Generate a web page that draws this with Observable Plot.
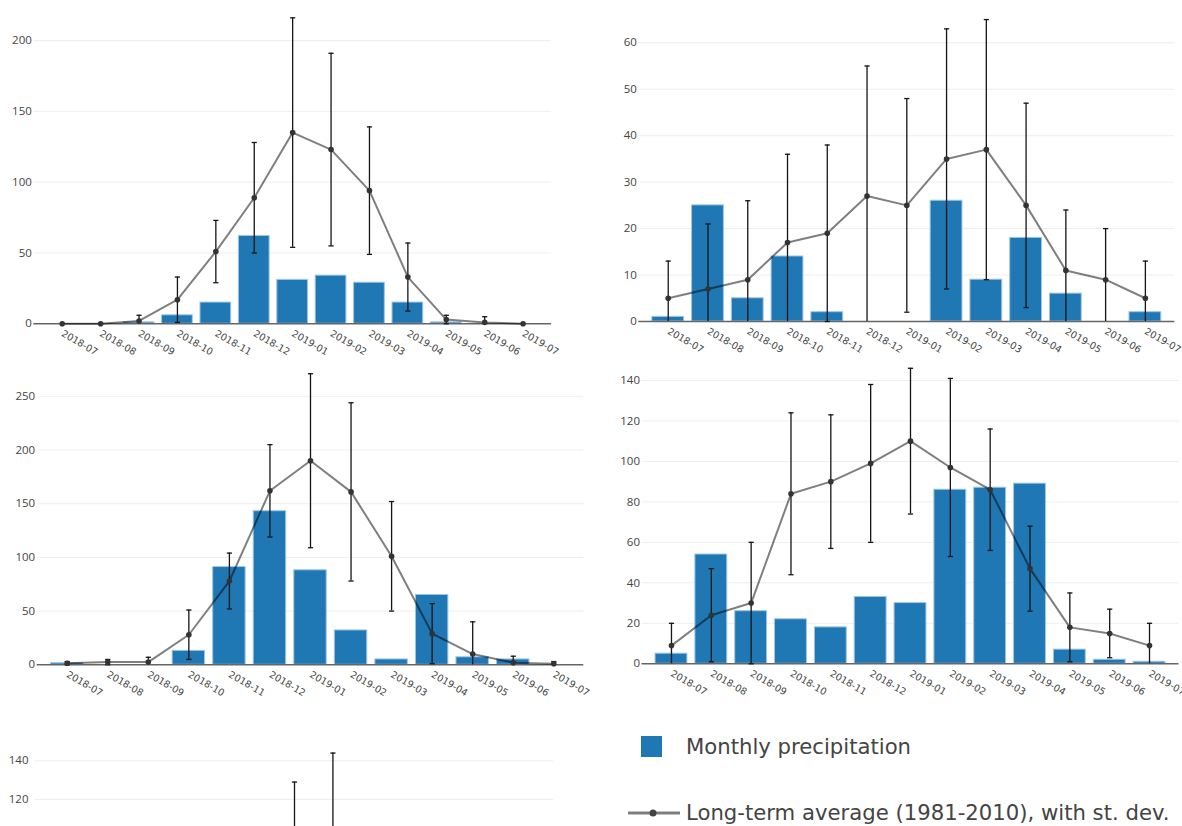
<!DOCTYPE html>
<html>
<head>
<meta charset="utf-8">
<script src="https://cdn.jsdelivr.net/npm/d3@7"></script>
<script src="https://cdn.jsdelivr.net/npm/@observablehq/plot@0.6"></script>
<style>
  html, body { margin: 0; padding: 0; background: #fff; overflow: hidden; width: 1182px; height: 826px; }
  #root { position: relative; width: 1182px; height: 826px; font-family: "Open Sans", sans-serif; }
  .panel { position: absolute; }
  .legend-item { position: absolute; color: #444; font-family: "DejaVu Sans", sans-serif; font-size: 21.2px; white-space: nowrap; line-height: 1; }
</style>
</head>
<body>
<div id="root"></div>
<script>
// ---------- data ----------
const months = ["2018-07","2018-08","2018-09","2018-10","2018-11","2018-12","2019-01","2019-02","2019-03","2019-04","2019-05","2019-06","2019-07"];

// Panel A (top left)
const aPrecip = [0, 0, 1, 6, 15, 62, 31, 34, 29, 15, 1, 0, 0];
const aMean   = [0, 0, 2, 17, 51, 89, 135, 123, 94, 33, 3, 1, 0];
const aSd     = [0, 0, 4, 16, 22, 39, 81, 68, 45, 24, 3, 4, 0];

// Panel B (top right)
const bPrecip = [1, 25, 5, 14, 2, 0, 0, 26, 9, 18, 6, 0, 2];
const bMean   = [5, 7, 9, 17, 19, 27, 25, 35, 37, 25, 11, 9, 5];
const bSd     = [8, 14, 17, 19, 19, 28, 23, 28, 28, 22, 13, 11, 8];

// Panel C (middle left)
const cPrecip = [1.5, 0, 0, 13, 91, 143, 88, 32, 5, 65, 7, 5, 0];
const cMean   = [1.5, 2.5, 2.5, 28, 78, 162, 190, 161, 101, 29, 10, 2, 1];
const cSd     = [1.5, 2.5, 4.5, 23, 26, 43, 81, 83, 51, 28, 30, 6, 2];

// Panel D (middle right)
const dPrecip = [5, 54, 26, 22, 18, 33, 30, 86, 87, 89, 7, 2, 1];
const dMean   = [9, 24, 30, 84, 90, 99, 110, 97, 86, 47, 18, 15, 9];
const dSd     = [11, 23, 30, 40, 33, 39, 36, 44, 30, 21, 17, 12, 11];

// Panel E (bottom left, only its top is visible): upper ends of the st. dev. bars
const eMonths = ["2019-01", "2019-02"];
const eUpper  = [129, 144];

// legend labels
const legendBar  = "Monthly precipitation";
const legendLine = "Long-term average (1981-2010), with st. dev.";

// ---------- style ----------
const BAR_FILL = "#1f77b4";
const BAR_STROKE = "#9fc5e6";
const GRID = "#eeeeee";
const TEXT = "#444";
const ERR = "#151515";
const capSymbol = { draw(ctx, size) { const r = Math.sqrt(size / Math.PI); ctx.moveTo(-r, 0); ctx.lineTo(r, 0); } };
const XPAD = 0.74;

const root = document.getElementById("root");

function panel(cfg) {
  const { left, top, width, height, plotLeft, plotRight, zeroY, pxPerUnit, marginTop, step, precip, mean, sd } = cfg;
  const marginBottom = height - zeroY;
  const yMax = (zeroY - marginTop) / pxPerUnit;
  const data = months.map((m, i) => ({ i, m, p: precip[i], mu: mean[i], sd: sd[i] }));
  const chart = Plot.plot({
    width, height,
    marginLeft: plotLeft, marginRight: width - plotRight, marginTop, marginBottom,
    x: { type: "linear", domain: [-XPAD, months.length - 1 + XPAD] },
    y: { domain: [0, yMax] },
    style: { fontFamily: "Open Sans, sans-serif", background: "transparent", overflow: "visible" },
    marks: [
      Plot.gridY({ ticks: d3.range(step, yMax, step), stroke: GRID, strokeOpacity: 1, strokeWidth: 1 }),
      Plot.axisY({ ticks: d3.range(0, yMax, step), tickSize: 0, tickPadding: 2, fontSize: 11.5, fill: TEXT, label: null }),
      Plot.rect(data, { x1: d => d.i - 0.4, x2: d => d.i + 0.4, y1: d => 0, y2: "p", fill: BAR_FILL, stroke: BAR_STROKE, strokeWidth: 1 }),
      Plot.ruleY([0], { stroke: "#666", strokeWidth: 1.5 }),
      Plot.line(data, { x: "i", y: "mu", stroke: "#000", strokeOpacity: 0.5, strokeWidth: 2 }),
      Plot.ruleX(data, { x: "i", y1: d => d.mu - d.sd, y2: d => d.mu + d.sd, stroke: ERR, strokeWidth: 1.3, clip: true }),
      Plot.dot(data.filter(d => d.sd > 0), { x: "i", y: d => d.mu + d.sd, symbol: capSymbol, r: 2.6, stroke: ERR, strokeWidth: 1.3, fill: "none" }),
      Plot.dot(data.filter(d => d.sd > 0 && d.mu - d.sd >= 0), { x: "i", y: d => d.mu - d.sd, symbol: capSymbol, r: 2.6, stroke: ERR, strokeWidth: 1.3, fill: "none" }),
      Plot.dot(data, { x: "i", y: "mu", r: 2.8, fill: "#333", stroke: "none" }),
      Plot.axisX({ ticks: d3.range(months.length), tickFormat: i => months[i], tickRotate: 30, tickSize: 0, tickPadding: 9,
                   fontSize: 9.6, fontFamily: "DejaVu Sans, sans-serif", fill: TEXT, label: null })
    ]
  });
  chart.classList.add("panel");
  chart.style.left = left + "px";
  chart.style.top = top + "px";
  root.appendChild(chart);
}

panel({ left: 0, top: 0, width: 590, height: 360, plotLeft: 33.3, plotRight: 551, zeroY: 323.3, pxPerUnit: 1.4165, marginTop: 0, step: 50,
        precip: aPrecip, mean: aMean, sd: aSd });
panel({ left: 590, top: 0, width: 592, height: 360, plotLeft: 48.3, plotRight: 584.3, zeroY: 321, pxPerUnit: 4.645, marginTop: 5, step: 10,
        precip: bPrecip, mean: bMean, sd: bSd });
panel({ left: 0, top: 360, width: 590, height: 340, plotLeft: 36.7, plotRight: 583.3, zeroY: 304.3, pxPerUnit: 1.074, marginTop: 0, step: 50,
        precip: cPrecip, mean: cMean, sd: cSd });
panel({ left: 590, top: 360, width: 592, height: 340, plotLeft: 51.5, plotRight: 588.5, zeroY: 303.3, pxPerUnit: 2.024, marginTop: 0, step: 20,
        precip: dPrecip, mean: dMean, sd: dSd });

// Panel E: only the top strip is visible in the window
(function () {
  const width = 590, height = 126, marginTop = 41, plotLeft = 35, plotRight = 553;
  const refVal = 140, refY = 60.3, pxPerUnit = 1.935;
  const yTop = refVal + (refY - marginTop) / pxPerUnit;
  const yBot = refVal - (height - refY) / pxPerUnit;
  const data = eMonths.map((m, k) => ({ i: months.indexOf(m), up: eUpper[k] }));
  const chart = Plot.plot({
    width, height, marginLeft: plotLeft, marginRight: width - plotRight, marginTop, marginBottom: 0,
    x: { type: "linear", domain: [-XPAD, months.length - 1 + XPAD], axis: null },
    y: { domain: [yBot, yTop] },
    style: { fontFamily: "Open Sans, sans-serif", background: "transparent" },
    marks: [
      Plot.gridY({ ticks: [120, 140], stroke: GRID, strokeOpacity: 1 }),
      Plot.axisY({ ticks: [120, 140], tickSize: 0, tickPadding: 7, fontSize: 11.5, fill: TEXT, label: null }),
      Plot.ruleX(data, { x: "i", y1: d => yBot, y2: "up", stroke: ERR, strokeWidth: 1.3 }),
      Plot.dot(data, { x: "i", y: "up", symbol: capSymbol, r: 2.6, stroke: ERR, strokeWidth: 1.3, fill: "none" })
    ]
  });
  chart.classList.add("panel");
  chart.style.left = "0px";
  chart.style.top = "700px";
  root.appendChild(chart);
})();

// ---------- legend ----------
(function () {
  const sq = document.createElement("div");
  sq.style.cssText = `position:absolute;left:641px;top:736px;width:21px;height:21px;background:${BAR_FILL};`;
  root.appendChild(sq);
  const t1 = document.createElement("div");
  t1.className = "legend-item";
  t1.style.left = "686px"; t1.style.top = "736px";
  t1.textContent = legendBar;
  root.appendChild(t1);

  const ns = "http://www.w3.org/2000/svg";
  const svg = document.createElementNS(ns, "svg");
  svg.setAttribute("width", 60); svg.setAttribute("height", 14);
  svg.style.cssText = "position:absolute;left:625px;top:806px;";
  const ln = document.createElementNS(ns, "line");
  ln.setAttribute("x1", 3); ln.setAttribute("x2", 55); ln.setAttribute("y1", 7); ln.setAttribute("y2", 7);
  ln.setAttribute("stroke", "#000"); ln.setAttribute("stroke-opacity", 0.5); ln.setAttribute("stroke-width", 3);
  svg.appendChild(ln);
  const c = document.createElementNS(ns, "circle");
  c.setAttribute("cx", 28); c.setAttribute("cy", 7); c.setAttribute("r", 3.5); c.setAttribute("fill", "#444");
  svg.appendChild(c);
  root.appendChild(svg);
  const t2 = document.createElement("div");
  t2.className = "legend-item";
  t2.style.left = "686px"; t2.style.top = "802px";
  t2.textContent = legendLine;
  root.appendChild(t2);
})();
</script>
</body>
</html>
